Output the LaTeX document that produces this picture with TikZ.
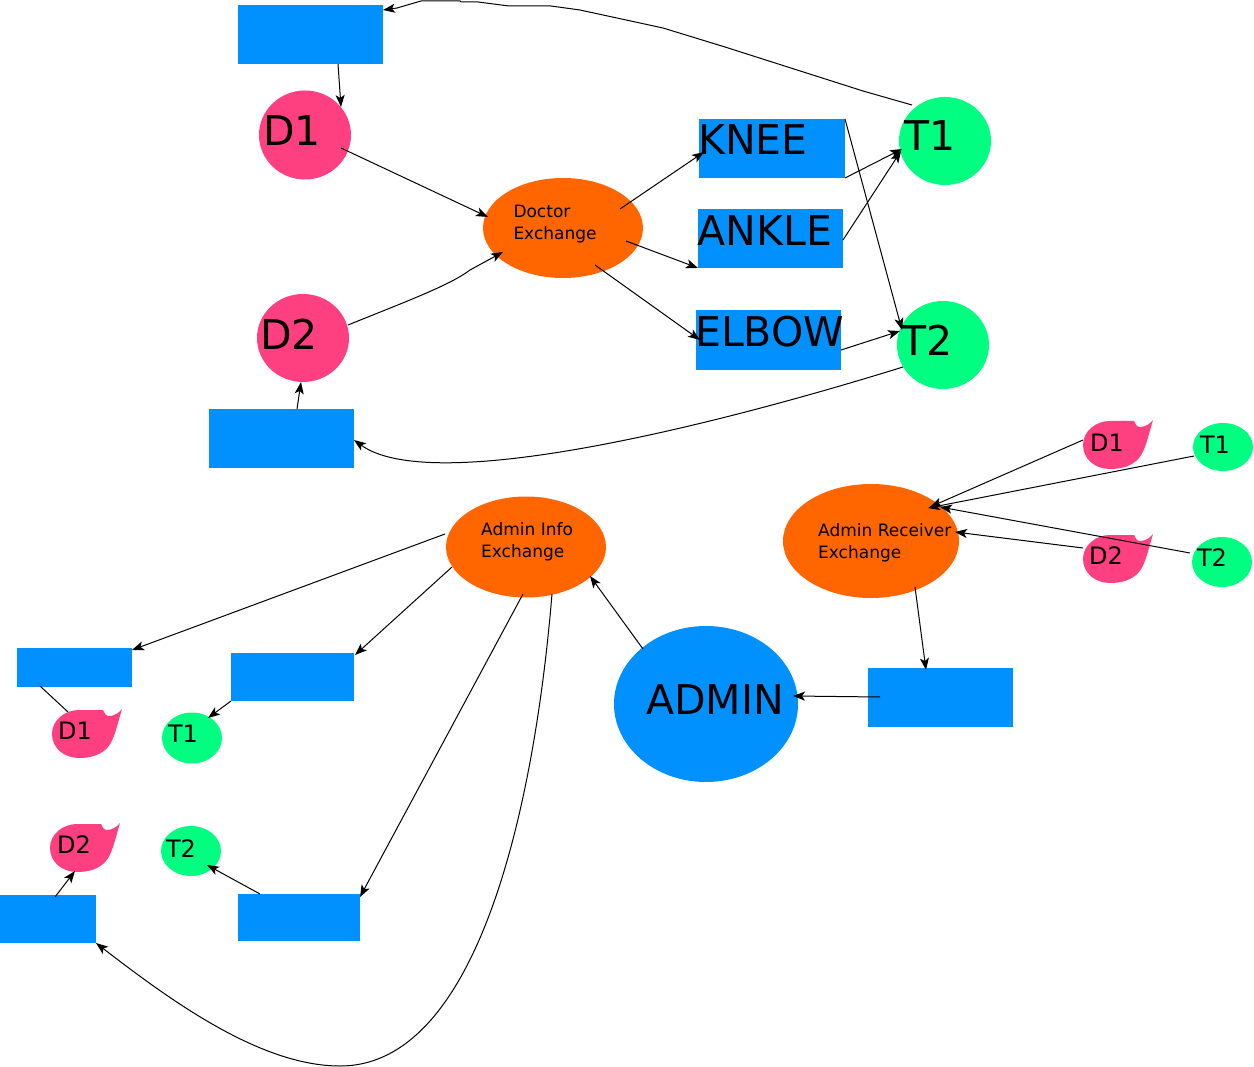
\documentclass[tikz,border=0pt]{standalone}
\usepackage{fontspec}
\setmainfont{DejaVu Sans}
\usetikzlibrary{shapes.geometric,arrows.meta,calc}
\definecolor{bluec}{RGB}{0,145,255}
\definecolor{pinkc}{RGB}{255,64,128}
\definecolor{greenc}{RGB}{0,255,128}
\definecolor{orangec}{RGB}{255,102,0}
\newcommand\tdrop[1]{\fill[pinkc, shift={(#1)}] (-27,0) .. controls (-27,-14) and (-14,-24) .. (0,-24) .. controls (10,-24) and (18,-24) .. (24,-24) .. controls (25,-21) and (27,-18) .. (30,-18) .. controls (35,-18) and (40,-21) .. (43,-25) .. controls (38,-8) and (35,6) .. (29,13) .. controls (22,21) and (12,24) .. (0,24) .. controls (-15,24) and (-27,14) .. (-27,0) -- cycle;}
\begin{document}
\begin{tikzpicture}[x=1pt,y=-1pt,
  box/.style={rectangle, fill=bluec, inner sep=0pt, outer sep=0pt},
  bub/.style={ellipse, inner sep=0pt, outer sep=0pt},
  lblbig/.style={font=\fontsize{41}{49}\selectfont, inner sep=0pt},
  lblsm/.style={font=\fontsize{24}{29}\selectfont, inner sep=0pt},
  lblex/.style={font=\fontsize{17}{22}\selectfont, inner sep=0pt, align=left},
  arr/.style={-{Stealth[length=12pt,width=9pt,inset=3pt]}, line width=1pt},
  ln/.style={line width=1pt}]
\fill[white] (0,0) rectangle (1254,1067);
\useasboundingbox (0,0) rectangle (1254,1067);

% ---- top section ----
\node[box, minimum width=145pt, minimum height=59pt] (topbox) at (310.5,34.5) {};
\node[box, minimum width=145pt, minimum height=59pt] (botbox) at (281.5,438.5) {};
\node[box, minimum width=146pt, minimum height=59pt, label={[lblbig,anchor=west,xshift=-1pt,yshift=8.5pt]west:KNEE}] (knee) at (772,148.5) {};
\node[box, minimum width=145pt, minimum height=59pt, label={[lblbig,anchor=west,xshift=-0.5pt,yshift=8pt]west:ANKLE}] (ankle) at (770.5,238.5) {};
\node[box, minimum width=145pt, minimum height=60pt, label={[lblbig,anchor=west,xshift=-1pt,yshift=8.5pt]west:ELBOW}] (elbow) at (768.5,340) {};

\node[bub, fill=pinkc, minimum width=92pt, minimum height=89pt, label={[lblbig,xshift=-13pt,yshift=4.5pt]center:D1}] (d1) at (305,135) {};
\node[bub, fill=pinkc, minimum width=92pt, minimum height=88pt, label={[lblbig,xshift=-14pt,yshift=4pt]center:D2}] (d2) at (303,338) {};
\node[bub, fill=greenc, minimum width=92pt, minimum height=88pt, label={[lblbig,xshift=-15pt,yshift=5pt]center:T1}] (t1) at (945,141) {};
\node[bub, fill=greenc, minimum width=92pt, minimum height=88pt, label={[lblbig,xshift=-16pt,yshift=5pt]center:T2}] (t2) at (943,345) {};
\node[bub, fill=orangec, minimum width=160pt, minimum height=100pt, label={[lblex,anchor=west,xshift=30.3pt,yshift=4.3pt]west:Doctor\\Exchange}] (de) at (563,228) {};

% ---- lower sections ----
\node[bub, fill=orangec, minimum width=160pt, minimum height=101pt, label={[lblex,anchor=west,xshift=35pt,yshift=5.6pt]west:Admin Info\\Exchange}] (aie) at (526,547) {};
\node[bub, fill=orangec, minimum width=176pt, minimum height=114pt, label={[lblex,anchor=west,xshift=35pt,yshift=-1.7pt]west:Admin Receiver\\Exchange}] (are) at (871,541) {};
\node[bub, fill=bluec, minimum width=184pt, minimum height=156pt, label={[lblbig,xshift=9pt,yshift=4pt]center:ADMIN}] (admin) at (706,704) {};
\node[box, minimum width=145pt, minimum height=59pt] (rbox) at (940.5,697.5) {};
\node[box, minimum width=115pt, minimum height=39pt] (lb1) at (74.5,667.5) {};
\node[box, minimum width=123pt, minimum height=48pt] (lb2) at (292.5,677) {};
\node[box, minimum width=96pt, minimum height=48pt] (lb3) at (48,919) {};
\node[box, minimum width=122pt, minimum height=47pt] (lb4) at (299,917.5) {};

\node[bub, fill=greenc, minimum width=60pt, minimum height=48pt, label={[lblsm,xshift=-8pt,yshift=2pt]center:T1}] (rt1) at (1223,447) {};
\node[bub, fill=greenc, minimum width=60pt, minimum height=50pt, label={[lblsm,xshift=-10pt,yshift=4pt]center:T2}] (rt2) at (1222,562) {};
\node[bub, fill=greenc, minimum width=60pt, minimum height=51pt, label={[lblsm,xshift=-9pt,yshift=4pt]center:T1}] (lt1) at (192,738) {};
\node[bub, fill=greenc, minimum width=60pt, minimum height=50pt, label={[lblsm,xshift=-10pt,yshift=2pt]center:T2}] (lt2) at (191,851) {};

\tdrop{1110,445}
\node[bub, minimum width=54pt, minimum height=48pt, label={[lblsm,xshift=-3pt,yshift=2.5pt]center:D1}] (rd1) at (1110,445) {};
\tdrop{1110,559}
\node[bub, minimum width=54pt, minimum height=48pt, label={[lblsm,xshift=-4pt,yshift=3pt]center:D2}] (rd2) at (1110,559) {};
\tdrop{79,734}
\node[bub, minimum width=54pt, minimum height=48pt, label={[lblsm,xshift=-4pt,yshift=3pt]center:D1}] (ld1) at (79,734) {};
\tdrop{77,848}
\node[bub, minimum width=54pt, minimum height=48pt, label={[lblsm,xshift=-3pt,yshift=3pt]center:D2}] (ld2) at (77,848) {};

% ---- connectors: top ----
\draw[arr] ($(t1)+(-33,-36)$) -- (863,91) -- (794,69) -- (725,47) -- (663,28) -- (580,10) -- (551,6) -- (509,6) -- (478,2) -- (461,2) -- (460,0.8) -- (421,1) -- (397,8) -- ($(topbox.north east)+(0,5)$);
\draw[arr] ($(topbox.south)+(27.5,0)$) -- ($(d1)+(36,-28)$);
\draw[arr] ($(d1)+(36,13)$) -- ($(de)+(-75,-11)$);
\draw[arr] ($(d2)+(45,-13)$) .. controls (410,300) and (450,285) .. (470,270) -- ($(de)+(-60,24)$);
\draw[arr] ($(de)+(57,-19)$) -- ($(knee)+(-68,3.5)$);
\draw[arr] ($(de)+(63,13)$) -- (ankle.south west);
\draw[arr] ($(de)+(32,37)$) -- ($(elbow)+(-68.5,0)$);
\draw[arr] (knee.south east) -- ($(t1)+(-43,8)$);
\draw[arr] ($(ankle.east)+(0,1.5)$) -- ($(t1)+(-44,10)$);
\draw[arr] (knee.north east) -- ($(t2)+(-41,-15)$);
\draw[arr] ($(elbow.east)+(0,10)$) -- ($(t2)+(-43,-14)$);
\draw[arr] ($(t2)+(-40,22)$) .. controls (700,430) and (430,495) .. ($(botbox.east)+(0,1.5)$);
\draw[arr] ($(botbox.north)+(15.5,0)$) -- ($(d2)+(-2,44)$);

% ---- connectors: right ----
\draw[arr] ($(rd1)+(-27,-5)$) -- ($(are)+(59,-34)$);
\draw[arr] ($(rt1)+(-29,9)$) -- ($(are)+(57,-33)$);
\draw[arr] ($(rt2)+(-32,-9)$) -- ($(are)+(69,-34)$);
\draw[arr] ($(rd2)+(-27,-11)$) -- ($(are)+(84,-9)$);
\draw[arr] ($(are)+(44,46)$) -- ($(rbox.north)+(-14.5,2)$);
\draw[arr] ($(rbox)+(-60.5,-0.5)$) -- ($(admin)+(87,-8)$);
\draw[arr] ($(admin)+(-63,-55)$) -- ($(aie)+(64,29)$);

% ---- connectors: lower left ----
\draw[arr] ($(aie)+(-81,-13)$) -- ($(lb1.north east)+(0,2)$);
\draw[arr] ($(aie)+(-74,20)$) -- ($(lb2.north east)+(1,2)$);
\draw[arr] ($(aie)+(-3,47)$) -- ($(lb4.north east)+(0,3)$);
\draw[arr] ($(aie)+(26,47)$) .. controls (535,800) and (480,1066) .. (340,1066) .. controls (260,1066) and (170,1000) .. (lb3.south east);
\draw[ln] ($(lb1.south)+(-34.5,-1)$) -- ($(ld1)+(-11,-22)$);
\draw[arr] (lb2.south west) -- ($(lt1)+(16,-20)$);
\draw[arr] ($(lb3.north)+(7,2)$) -- ($(ld2)+(-2,23)$);
\draw[arr] ($(lb4.north)+(-39,0)$) -- ($(lt2)+(16,14)$);
\end{tikzpicture}
\end{document}
